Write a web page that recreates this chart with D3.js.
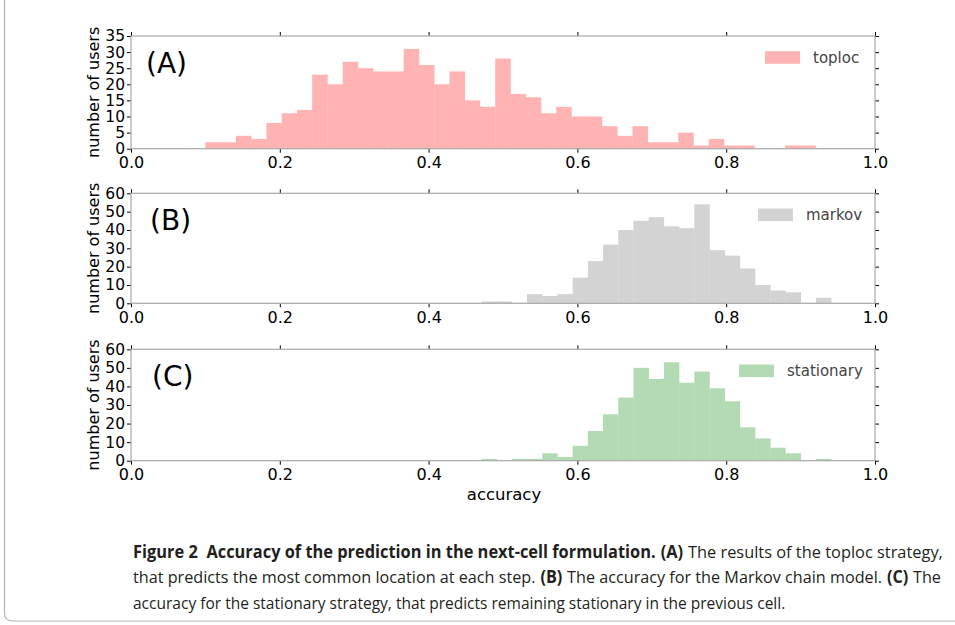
<!DOCTYPE html>
<html>
<head>
<meta charset="utf-8">
<script src="https://cdn.jsdelivr.net/npm/d3@7"></script>
<style>
  body { margin: 0; background: #fff; }
  svg { display: block; }
  .tick text { font-family: "DejaVu Sans", sans-serif; fill: #000; }
  .tick line { stroke: #000; }
</style>
</head>
<body>
<svg id="fig" width="955" height="625"></svg>
<script>
'use strict';

// accuracy histograms, counts
const accTicks = [0.0, 0.2, 0.4, 0.6, 0.8, 1.0];

const toplocRange = [0.1, 0.92];
const toplocCounts = [2, 2, 4, 3, 8, 11, 12, 23, 20, 27, 25, 24, 24, 31, 26, 20, 24, 15, 13, 28,
  17, 16, 11, 13, 10, 10, 7, 4, 7, 2, 2, 5, 1, 3, 1, 1, 0, 0, 1, 1];
const toplocTicks = [0, 5, 10, 15, 20, 25, 30, 35];

const markovRange = [0.471, 0.941];
const markovCounts = [1, 1, 0, 5, 4, 5, 14, 23, 32, 40, 45, 47, 42, 41, 54, 29, 26, 19, 10, 7, 6, 0, 3];
const markovTicks = [0, 10, 20, 30, 40, 50, 60];

const stationaryRange = [0.471, 0.941];
const stationaryCounts = [1, 0, 1, 1, 4, 2, 8, 16, 25, 34, 50, 44, 53, 42, 48, 39, 32, 18, 12, 7, 4, 0, 1];
const stationaryTicks = [0, 10, 20, 30, 40, 50, 60];

const panels = [
  { tag: '(A)', name: 'toploc', counts: toplocCounts, range: toplocRange, ticks: toplocTicks,
    color: '#ffb3b3', top: 36, bottom: 148.7, tagX: 146, legX: 765, legW: 35 },
  { tag: '(B)', name: 'markov', counts: markovCounts, range: markovRange, ticks: markovTicks,
    color: '#d3d3d3', top: 193.3, bottom: 303.3, tagX: 150, legX: 758, legW: 35 },
  { tag: '(C)', name: 'stationary', counts: stationaryCounts, range: stationaryRange, ticks: stationaryTicks,
    color: '#b3dbb3', top: 349.3, bottom: 460.7, tagX: 152, legX: 739, legW: 35 },
];

const svg = d3.select('#fig');
const x = d3.scaleLinear().domain([0, 1]).range([131, 875]);

panels.forEach(function (p) {
  const yMax = p.ticks[p.ticks.length - 1];
  const y = d3.scaleLinear().domain([0, yMax]).range([p.bottom, p.top]);
  const g = svg.append('g');
  const n = p.counts.length;
  const step = (p.range[1] - p.range[0]) / n;
  const bins = p.counts.map((c, i) => ({ x0: p.range[0] + i * step, x1: p.range[0] + (i + 1) * step, c: c }));

  g.selectAll('rect.bar')
    .data(bins.filter(d => d.c > 0))
    .join('rect')
    .attr('class', 'bar')
    .attr('x', d => x(d.x0))
    .attr('width', d => x(d.x1) - x(d.x0) + 0.3)
    .attr('y', d => y(d.c))
    .attr('height', d => y(0) - y(d.c))
    .attr('fill', p.color);

  // axes: ticks outside on all four sides, labels bottom and left
  const bx = g.append('g').attr('transform', `translate(0,${p.bottom})`)
    .call(d3.axisBottom(x).tickValues(accTicks).tickFormat(d3.format('.1f')).tickSize(4).tickPadding(4));
  bx.selectAll('text').style('font-size', '16px');
  g.append('g').attr('transform', `translate(0,${p.top})`)
    .call(d3.axisTop(x).tickValues(accTicks).tickFormat('').tickSize(4));
  const ly = g.append('g').attr('transform', `translate(${x(0)},0)`)
    .call(d3.axisLeft(y).tickValues(p.ticks).tickSize(4).tickPadding(2));
  ly.selectAll('text').style('font-size', '15.5px');
  g.append('g').attr('transform', `translate(${x(1)},0)`)
    .call(d3.axisRight(y).tickValues(p.ticks).tickFormat('').tickSize(4));
  g.selectAll('.domain').remove();

  g.append('rect')
    .attr('x', x(0)).attr('y', p.top)
    .attr('width', x(1) - x(0)).attr('height', p.bottom - p.top)
    .attr('fill', 'none').attr('stroke', '#a8a8a8').attr('stroke-width', 1.2);

  g.append('text')
    .attr('transform', `translate(99,${(p.top + p.bottom) / 2}) rotate(-90)`)
    .attr('text-anchor', 'middle')
    .style('font-family', 'DejaVu Sans, sans-serif').style('font-size', '16px')
    .text('number of users');

  g.append('text')
    .attr('x', p.tagX).attr('y', p.top + 37)
    .style('font-family', 'DejaVu Sans, sans-serif').style('font-size', '28px')
    .text(p.tag);

  // legend
  const legY = p.top + 21.5;
  g.append('rect')
    .attr('x', p.legX).attr('y', legY - 6.3)
    .attr('width', p.legW).attr('height', 12.6)
    .attr('fill', p.color);
  g.append('text')
    .attr('x', p.legX + p.legW + 13).attr('y', legY + 5)
    .style('font-family', 'DejaVu Sans, sans-serif').style('font-size', '15px')
    .attr('fill', '#444')
    .text(p.name);
});

svg.append('text')
  .attr('x', 504).attr('y', 500)
  .attr('text-anchor', 'middle')
  .style('font-family', 'DejaVu Sans, sans-serif').style('font-size', '16.5px')
  .text('accuracy');

// caption: each run is its own text, laid out left to right, then the line is squeezed to width
const captionLines = [
  { w: 810, parts: [['Figure 2', true, 9], ['Accuracy of the prediction in the next-cell formulation.', true, 5],
    ['(A)', true, 5], ['The results of the toploc strategy,', false, 0]] },
  { w: 808, parts: [['that predicts the most common location at each step.', false, 5], ['(B)', true, 5],
    ['The accuracy for the Markov chain model.', false, 5], ['(C)', true, 5], ['The', false, 0]] },
  { w: 653, parts: [['accuracy for the stationary strategy, that predicts remaining stationary in the previous cell.', false, 0]] },
];
captionLines.forEach(function (line, i) {
  const lg = svg.append('g');
  let cx = 0;
  line.parts.forEach(function (pt) {
    const t = lg.append('text')
      .attr('x', cx).attr('y', 0)
      .style('font-family', '"Open Sans", sans-serif').style('font-size', '17px')
      .style('font-weight', pt[1] ? 'bold' : 'normal')
      .attr('fill', '#231f20')
      .text(pt[0]);
    cx += t.node().getComputedTextLength() + pt[2];
  });
  lg.attr('transform', `translate(133,${558 + i * 25.3}) scale(${line.w / cx},1)`);
});

// figure frame (left and bottom edges, rounded corner)
svg.append('path')
  .attr('d', 'M4.5,0 L4.5,613 Q4.5,621 12.5,621 L955,621')
  .attr('fill', 'none').attr('stroke', '#b5b5b5').attr('stroke-width', 1.2);
</script>
</body>
</html>
